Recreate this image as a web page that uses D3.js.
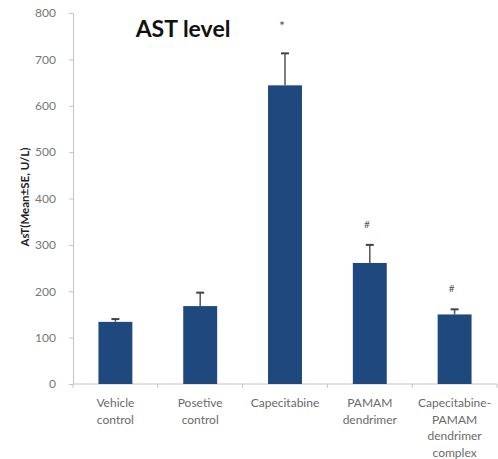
<!DOCTYPE html>
<html>
<head>
<meta charset="utf-8">
<script src="https://cdn.jsdelivr.net/npm/d3@7"></script>
<style>
  body { margin: 0; background: #fff; }
  text { font-family: Lato, "Open Sans", sans-serif; }
</style>
</head>
<body>
<script>
// datos
var grupos = [
  ["Vehicle", "control"],
  ["Posetive", "control"],
  ["Capecitabine"],
  ["PAMAM", "dendrimer"],
  ["Capecitabine-", "PAMAM", "dendrimer", "complex"]
];
var medias = [134, 168, 644, 261, 150];
var errores = [6, 29, 69, 39, 11];
var marcas = ["", "", "*", "#", "#"];
var ticksY = [0, 100, 200, 300, 400, 500, 600, 700, 800];

var ancho = 498, alto = 459;
var svg = d3.select("body").append("svg")
  .attr("width", ancho)
  .attr("height", alto);

var nombres = grupos.map(g => g.join(" "));
var xIni = 73, xFin = 497;

var xScale = d3.scaleBand()
  .domain(nombres)
  .range([xIni, xFin])
  .paddingInner(0.6)
  .paddingOuter(0.3);

var yScale = d3.scaleLinear()
  .domain([0, 800])
  .range([384, 13]);

// eje Y
var ejeY = svg.append("g")
  .attr("transform", "translate(" + xIni + ",0)")
  .call(d3.axisLeft(yScale).tickValues(ticksY).tickSize(4).tickPadding(13));
ejeY.select(".domain").attr("stroke", "#c4c4c4");
ejeY.selectAll(".tick line").attr("stroke", "#c4c4c4");
ejeY.selectAll(".tick text")
  .attr("fill", "#777")
  .style("font-size", "12px");

// eje X (ticks en los limites de cada grupo)
var paso = (xFin - xIni) / nombres.length;
svg.append("line")
  .attr("x1", xIni).attr("x2", xFin)
  .attr("y1", yScale(0)).attr("y2", yScale(0))
  .attr("stroke", "#c4c4c4");
svg.selectAll(".tickx")
  .data(d3.range(nombres.length + 1))
  .enter()
  .append("line")
  .attr("x1", i => xIni + i * paso)
  .attr("x2", i => xIni + i * paso)
  .attr("y1", yScale(0))
  .attr("y2", yScale(0) + 4)
  .attr("stroke", "#c4c4c4");

// etiquetas de categorias
var etiquetas = svg.selectAll(".cat")
  .data(grupos)
  .enter()
  .append("text")
  .attr("text-anchor", "middle")
  .attr("fill", "#6a6a6a")
  .style("font-size", "12px");
etiquetas.selectAll("tspan")
  .data((g, i) => g.map(l => ({ l: l, n: nombres[i] })))
  .enter()
  .append("tspan")
  .attr("x", d => xScale(d.n) + xScale.bandwidth() / 2)
  .attr("y", (d, j) => 407 + j * 16.5)
  .text(d => d.l);

// barras
svg.selectAll(".bar")
  .data(medias)
  .enter()
  .append("rect")
  .attr("x", (d, i) => xScale(nombres[i]))
  .attr("y", d => yScale(d))
  .attr("width", xScale.bandwidth())
  .attr("height", d => yScale(0) - yScale(d))
  .attr("fill", "#1f487f");

// barras de error
svg.selectAll(".err")
  .data(medias)
  .enter()
  .append("line")
  .attr("x1", (d, i) => xScale(nombres[i]) + xScale.bandwidth() / 2)
  .attr("x2", (d, i) => xScale(nombres[i]) + xScale.bandwidth() / 2)
  .attr("y1", d => yScale(d))
  .attr("y2", (d, i) => yScale(d + errores[i]))
  .attr("stroke", "#555")
  .attr("stroke-width", 1.5);
svg.selectAll(".cap")
  .data(medias)
  .enter()
  .append("line")
  .attr("x1", (d, i) => xScale(nombres[i]) + xScale.bandwidth() / 2 - 4)
  .attr("x2", (d, i) => xScale(nombres[i]) + xScale.bandwidth() / 2 + 4)
  .attr("y1", (d, i) => yScale(d + errores[i]))
  .attr("y2", (d, i) => yScale(d + errores[i]))
  .attr("stroke", "#444")
  .attr("stroke-width", 2);

// marcas de significancia
svg.selectAll(".sig")
  .data(medias)
  .enter()
  .append("text")
  .attr("x", (d, i) => xScale(nombres[i]) + xScale.bandwidth() / 2 - 3)
  .attr("y", (d, i) => yScale(d + errores[i]) - (marcas[i] == "*" ? 22 : 17))
  .attr("text-anchor", "middle")
  .attr("fill", "#555")
  .style("font-size", (d, i) => marcas[i] == "*" ? "14px" : "10px")
  .text((d, i) => marcas[i]);

// titulo
svg.append("text")
  .attr("x", 183)
  .attr("y", 37)
  .attr("text-anchor", "middle")
  .attr("fill", "#111")
  .style("font-size", "23px")
  .style("font-weight", "bold")
  .text("AST level");

// titulo eje Y
svg.append("text")
  .attr("transform", "translate(29,197) rotate(-90)")
  .attr("text-anchor", "middle")
  .attr("fill", "#222")
  .style("font-size", "11.5px")
  .style("font-weight", "bold")
  .text("AsT(Mean±SE, U/L)");
</script>
</body>
</html>
